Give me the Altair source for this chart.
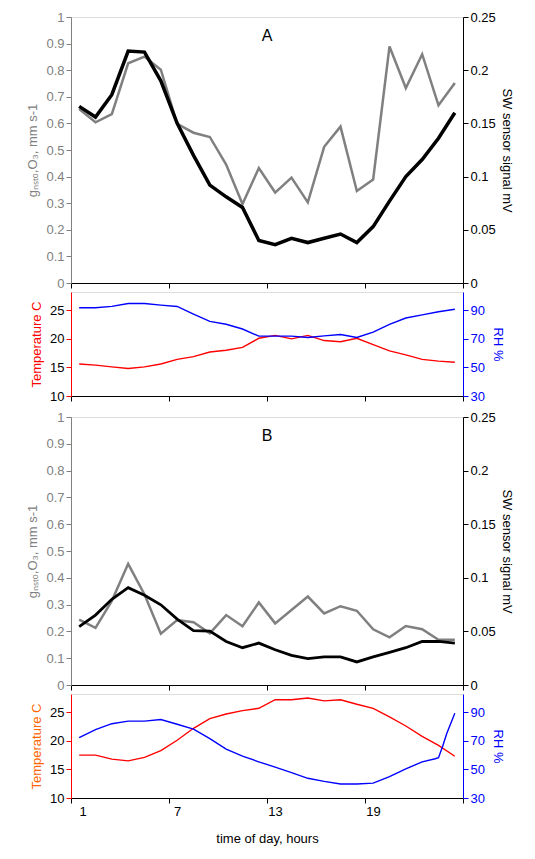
import altair as alt
import pandas as pd

hours = list(range(1, 25))

# panel A
gA = [0.654, 0.604, 0.635, 0.826, 0.851, 0.802, 0.598, 0.565, 0.549, 0.445, 0.297, 0.432,
      0.340, 0.396, 0.303, 0.512, 0.588, 0.346, 0.389, 0.889, 0.733, 0.860, 0.668, 0.752]
swA = [0.166, 0.156, 0.177, 0.218, 0.217, 0.190, 0.150, 0.120, 0.092, 0.081, 0.071, 0.040,
       0.036, 0.042, 0.038, 0.042, 0.046, 0.038, 0.053, 0.077, 0.100, 0.116, 0.136, 0.160]
tA = [15.6, 15.4, 15.1, 14.8, 15.1, 15.6, 16.4, 16.9, 17.7, 18.0, 18.5, 20.1,
      20.6, 20.0, 20.6, 19.7, 19.5, 20.1, 19.0, 17.9, 17.2, 16.4, 16.1, 15.9]
rhA = [91.8, 91.8, 92.7, 94.7, 94.7, 93.6, 92.7, 87.3, 82.2, 80.2, 76.9, 71.9,
       71.9, 71.9, 71.0, 72.1, 73.0, 71.0, 74.7, 80.2, 84.6, 86.8, 89.0, 90.7]

# panel B
gB = [0.244, 0.213, 0.314, 0.452, 0.338, 0.191, 0.242, 0.234, 0.193, 0.261, 0.219, 0.308,
      0.230, 0.280, 0.330, 0.267, 0.294, 0.277, 0.208, 0.178, 0.220, 0.208, 0.169, 0.169]
swB = [0.0545, 0.0652, 0.080, 0.0908, 0.0837, 0.0748, 0.0615, 0.0508, 0.0502, 0.0406, 0.0348, 0.0391,
       0.0329, 0.0277, 0.0246, 0.0262, 0.0262, 0.0215, 0.0262, 0.0305, 0.0348, 0.0406, 0.0406, 0.0391]
tB = [17.5, 17.5, 16.8, 16.5, 17.1, 18.3, 20.1, 22.2, 23.9, 24.7, 25.3, 25.7,
      27.2, 27.2, 27.5, 27.0, 27.2, 26.4, 25.7, 24.2, 22.6, 20.8, 19.2, 17.3]
rhB_hours = list(range(1, 23)) + [22.8, 23.0, 23.25, 23.5, 24.0]
rhB = [72.2, 77.8, 82.0, 83.8, 83.8, 84.9, 81.6, 78.2, 71.6, 64.2, 59.3, 55.3,
       51.6, 47.8, 43.8, 41.6, 39.8, 39.8, 40.4, 44.9, 50.4, 55.3, 57.5, 58.2, 66.0, 74.9, 89.3]
g_ticks = [0, 0.1, 0.2, 0.3, 0.4, 0.5, 0.6, 0.7, 0.8, 0.9, 1]

W = 392
FONT = "Liberation Sans"
GRAY = "#808080"
xdom = [0.5, 24.5]


def xenc(show_labels=False):
    return alt.X("h:Q", scale=alt.Scale(domain=xdom, nice=False, zero=False),
                 axis=alt.Axis(values=[0.5, 6.5, 12.5, 18.5, 24.5], grid=False,
                               labels=show_labels, labelOffset=8,
                               labelExpr="datum.value < 24 ? format(datum.value + 0.5, 'd') : ''",
                               title="time of day, hours" if show_labels else None,
                               domainColor="black", tickColor="black", labelFontSize=13,
                               titleFontSize=13, titleFontWeight="normal", titlePadding=14,
                               labelColor="black"))


def genc():
    return alt.Y("g:Q", scale=alt.Scale(domain=[0, 1], nice=False),
                 axis=alt.Axis(values=g_ticks, grid=False, format="~g",
                               labelOverlap=False, labelFlush=False,
                               title="gₙₛₜₒ,O₃, mm s-1", titleColor=GRAY, labelColor=GRAY,
                               domainColor=GRAY, tickColor=GRAY, labelFontSize=13,
                               titleFontSize=13, titleFontWeight="normal", titlePadding=6))


def main_panel(g, sw, label, h):
    d = pd.DataFrame({"h": hours, "g": g, "sw": sw})
    left = alt.Chart(d).mark_line(color=GRAY, strokeWidth=2.5).encode(x=xenc(), y=genc())
    txt = alt.Chart(pd.DataFrame({"h": [12.5], "g": [0.93], "t": [label]})).mark_text(
        fontSize=16, font=FONT, color="black").encode(x=xenc(), y=genc(), text="t:N")
    right = alt.Chart(d).mark_line(color="black", strokeWidth=3.5 if label == "A" else 2.8).encode(
        x=xenc(),
        y=alt.Y("sw:Q", scale=alt.Scale(domain=[0, 0.25], nice=False),
                axis=alt.Axis(orient="right", values=[0, 0.05, 0.1, 0.15, 0.2, 0.25], grid=False,
                              format="~g", labelOverlap=False, labelFlush=False,
                              title="SW sensor signal mV", titleColor="black",
                              labelColor="black", domainColor="black", tickColor="black",
                              labelFontSize=13, titleFontSize=13, titleFontWeight="normal",
                              titlePadding=4)))
    return alt.layer(left + txt, right).resolve_scale(y="independent").properties(width=W, height=h)


def met_panel(t, rh_h, rh, tcolor, show_labels, h):
    dt = pd.DataFrame({"h": hours, "t": t})
    dr = pd.DataFrame({"h": rh_h, "rh": rh})
    left = alt.Chart(dt).mark_line(color="red", strokeWidth=1.4).encode(
        x=xenc(show_labels),
        y=alt.Y("t:Q", scale=alt.Scale(domain=[10, 28.2], nice=False),
                axis=alt.Axis(values=[10, 15, 20, 25], grid=False, title="Temperature C",
                              labelFlush=False,
                              titleColor=tcolor, labelColor="black", domainColor="red",
                              tickColor="red", labelFontSize=13, titleFontSize=13,
                              titleFontWeight="normal", titlePadding=6)))
    right = alt.Chart(dr).mark_line(color="blue", strokeWidth=1.4).encode(
        x=xenc(show_labels),
        y=alt.Y("rh:Q", scale=alt.Scale(domain=[30, 102.8], nice=False),
                axis=alt.Axis(orient="right", values=[30, 50, 70, 90], grid=False, title="RH %",
                              labelFlush=False,
                              titleColor="blue", labelColor="blue", domainColor="blue",
                              tickColor="blue", labelFontSize=13, titleFontSize=13,
                              titleFontWeight="normal", titlePadding=6)))
    return alt.layer(left, right).resolve_scale(y="independent").properties(width=W, height=h)


top = alt.vconcat(main_panel(gA, swA, "A", 266),
                  met_panel(tA, hours, rhA, "red", False, 104), spacing=0)
bottom = alt.vconcat(main_panel(gB, swB, "B", 268),
                     met_panel(tB, rhB_hours, rhB, "#FF6600", True, 104), spacing=0)

chart = alt.vconcat(top, bottom, spacing=6).configure_view(
    stroke="black", strokeWidth=1).configure(font=FONT).properties(
    padding={"left": 18, "top": 2, "right": 0, "bottom": 0})

chart.save("out.html", embed_options={"renderer": "svg", "actions": False})
